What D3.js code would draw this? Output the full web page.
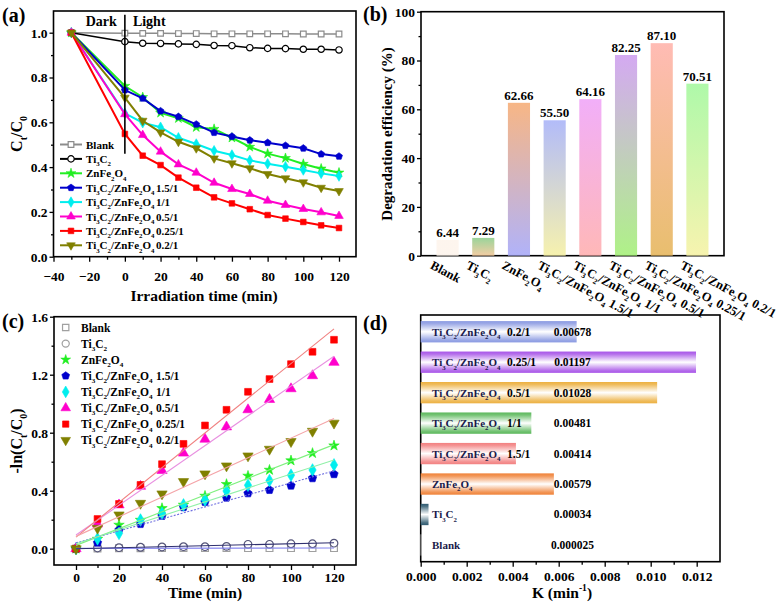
<!DOCTYPE html>
<html><head><meta charset="utf-8">
<script src="https://cdn.jsdelivr.net/npm/d3@7/dist/d3.min.js"></script>
<style>
body{margin:0;background:#fff}
svg{display:block}
text{font-family:"Liberation Serif","Times New Roman",serif;font-weight:bold;fill:#000}
</style>
</head><body>
<svg id="c" width="780" height="605"></svg>
<script>
// ---------------- DATA ----------------
const seriesNames = ["Blank","Ti3C2","ZnFe2O4","Ti3C2/ZnFe2O4 1.5/1","Ti3C2/ZnFe2O4 1/1","Ti3C2/ZnFe2O4 0.5/1","Ti3C2/ZnFe2O4 0.25/1","Ti3C2/ZnFe2O4 0.2/1"];

// (a) Ct/C0 vs irradiation time
const timeA = [-30,0,10,20,30,40,50,60,70,80,90,100,110,120];
const ctBlank   = [1.000,0.998,0.997,0.997,0.996,0.996,0.995,0.995,0.995,0.995,0.995,0.994,0.994,0.994];
const ctTi3C2   = [1.000,0.960,0.953,0.952,0.950,0.948,0.943,0.942,0.933,0.930,0.929,0.926,0.926,0.923];
const ctZnFe2O4 = [1.000,0.762,0.712,0.642,0.618,0.578,0.570,0.531,0.490,0.460,0.440,0.414,0.393,0.375];
const ct15      = [1.000,0.744,0.707,0.650,0.625,0.591,0.554,0.537,0.520,0.509,0.496,0.484,0.458,0.448];
const ct1       = [1.000,0.640,0.598,0.578,0.531,0.503,0.473,0.454,0.430,0.415,0.402,0.387,0.372,0.360];
const ct05      = [1.000,0.636,0.543,0.469,0.412,0.375,0.330,0.302,0.280,0.250,0.231,0.213,0.198,0.182];
const ct025     = [1.000,0.548,0.451,0.409,0.353,0.308,0.265,0.238,0.212,0.186,0.170,0.155,0.140,0.128];
const ct02      = [1.000,0.710,0.607,0.555,0.513,0.484,0.439,0.417,0.395,0.369,0.350,0.332,0.308,0.293];
const ctSeries = [ctBlank,ctTi3C2,ctZnFe2O4,ct15,ct1,ct05,ct025,ct02];

// (b) degradation efficiency (%)
const efficiency = [6.44,7.29,62.66,55.50,64.16,82.25,87.10,70.51];
const efficiencyLabels = ["6.44","7.29","62.66","55.50","64.16","82.25","87.10","70.51"];

// (c) -ln(Ct/C0) vs time
const timeC = [0,10,20,30,40,50,60,70,80,90,100,110,120];
const lnBlank   = [0,0.002,0.003,0.003,0.004,0.004,0.004,0.004,0.004,0.004,0.004,0.004,0.004];
const lnTi3C2   = [0,0.005,0.007,0.010,0.012,0.014,0.014,0.016,0.030,0.030,0.034,0.034,0.038];
const lnZnFe2O4 = [0,0.067,0.164,0.198,0.279,0.302,0.364,0.445,0.502,0.543,0.608,0.659,0.711];
const ln15      = [0,0.041,0.129,0.170,0.226,0.286,0.322,0.352,0.382,0.405,0.435,0.486,0.514];
const ln1       = [0,0.068,0.106,0.198,0.244,0.302,0.336,0.398,0.438,0.470,0.507,0.543,0.578];
const ln05      = [0,0.170,0.302,0.430,0.539,0.659,0.755,0.840,0.958,1.029,1.103,1.193,1.285];
const ln025     = [0,0.205,0.309,0.440,0.583,0.723,0.850,0.958,1.082,1.170,1.273,1.358,1.441];
const ln02      = [0,0.141,0.233,0.313,0.378,0.463,0.516,0.571,0.640,0.686,0.739,0.810,0.866];
const lnSeries = [lnBlank,lnTi3C2,lnZnFe2O4,ln15,ln1,ln05,ln025,ln02];
// linear fit: slope = K, intercepts
const fitIntercepts = [0.002,0.000,0.023,0.040,0.034,0.094,0.080,0.085];

// (d) rate constants K (min^-1)
const kValues = [0.000025,0.00034,0.00579,0.00414,0.00481,0.01028,0.01197,0.00678];
const kLabels = ["0.000025","0.00034","0.00579","0.00414","0.00481","0.01028","0.01197","0.00678"];

// tick values
const ticksAx = [-40,-20,0,20,40,60,80,100,120];
const ticksAy = [0,0.2,0.4,0.6,0.8,1.0];
const ticksBy = [0,20,40,60,80,100];
const ticksCx = [0,20,40,60,80,100,120];
const ticksCy = [0,0.4,0.8,1.2,1.6];
const ticksDx = [0,0.002,0.004,0.006,0.008,0.010,0.012];

// ---------------- STYLES ----------------
const lineColors = ["#8c8c8c","#000000","#22ee22","#0000cc","#00eeee","#ff00cc","#ff0000","#808000"];
const fitColors  = ["#8888f0","#303070","#80f080","#7070e0","#90f0a8","#e890e0","#f08080","#f4a4a8"];
const barTop     = ["#fdf4ec","#8fcf8f","#f6ae78","#aab4f8","#f0a6f8","#cfa0f0","#ffb4ac","#a6f8a0"];
const barBot     = ["#fdf4ec","#f2c89a","#a8aaf8","#f5f0a5","#ffb0b0","#a6f07a","#e6b75e","#f6f2a6"];
const kColors    = ["#ffffff","#2f5a70","#f08238","#f28080","#5cb85c","#ecb040","#a855e8","#8a9ae2"];

const svg = d3.select("#c");
const defs = svg.append("defs");
const FS = 13.5;

// rich text: digits following a letter become subscripts
function chemSegs(str){
  const segs=[]; let prev="";
  for(const ch of str){
    const sub = /\d/.test(ch) && /[A-Za-z]/.test(prev);
    const s = sub?1:0;
    if(segs.length && segs[segs.length-1].s===s) segs[segs.length-1].t+=ch;
    else segs.push({t:ch,s:s});
    prev=ch;
  }
  return segs;
}
function addRich(text, segs, fs){
  let cur=0;
  segs.forEach(seg=>{
    const target = seg.s===1 ? fs*0.3 : seg.s===-1 ? -fs*0.42 : 0;
    text.append("tspan").attr("dy",(target-cur).toFixed(2)).attr("font-size", seg.s? fs*0.62 : fs).text(seg.t);
    cur=target;
  });
  return text;
}
function frame(x0,x1,y0,y1){
  svg.append("rect").attr("x",x0).attr("y",y0).attr("width",x1-x0).attr("height",y1-y0)
    .attr("fill","none").attr("stroke","#000").attr("stroke-width",1.6);
}
function drawAxis(gen, tx, ty){
  const g = svg.append("g").attr("transform",`translate(${tx},${ty})`).call(gen);
  g.select(".domain").remove();
  g.selectAll("line").attr("stroke","#000").attr("stroke-width",1.3);
  g.selectAll("text").attr("font-size",FS).attr("fill","#000");
  return g;
}
function mids(arr){ const m=[]; for(let i=0;i<arr.length-1;i++) m.push((arr[i]+arr[i+1])/2); return m; }

// custom symbols
const pentagon = {draw(ctx,size){ const r=Math.sqrt(size/2.38); for(let i=0;i<5;i++){const a=-Math.PI/2+i*2*Math.PI/5; const x=r*Math.cos(a), y=r*Math.sin(a); i?ctx.lineTo(x,y):ctx.moveTo(x,y);} ctx.closePath(); }};
const symTypes = [d3.symbolSquare,d3.symbolCircle,d3.symbolStar,pentagon,d3.symbolDiamond,d3.symbolTriangle,d3.symbolSquare,d3.symbolTriangle];
const symRot   = [0,0,0,0,0,0,0,180];
const openSym  = [true,true,false,false,false,false,false,false];

function marker(g, i, x, y, size, strokeCol){
  g.append("path").attr("d", d3.symbol().type(symTypes[i]).size(size)())
    .attr("transform",`translate(${x},${y}) rotate(${symRot[i]})`)
    .attr("fill", openSym[i] ? "#fff" : lineColors[i])
    .attr("stroke", strokeCol || lineColors[i]).attr("stroke-width", openSym[i]?1.2:0.6);
}

// ================= PANEL (a) =================
const xA = d3.scaleLinear().domain([-40,120]).range([53.5,339]);
const yA = d3.scaleLinear().domain([0,1]).range([256.7,32.7]);
frame(53.5,356,11,256.7);
drawAxis(d3.axisBottom(xA).tickValues(ticksAx).tickSize(5).tickPadding(10).tickFormat(d3.format("d")),0,256.7);
drawAxis(d3.axisBottom(xA).tickValues(mids(ticksAx)).tickSize(3).tickFormat(""),0,256.7);
drawAxis(d3.axisLeft(yA).tickValues(ticksAy).tickSize(4).tickPadding(2).tickFormat(d3.format(".1f")),53.5,0);
drawAxis(d3.axisLeft(yA).tickValues(mids(ticksAy)).tickSize(2.5).tickFormat(""),53.5,0);

const gA = svg.append("g");
ctSeries.forEach((s,i)=>{
  const pts = timeA.map((t,j)=>[t,s[j]]);
  gA.append("path").attr("d",d3.line().x(d=>xA(d[0])).y(d=>yA(d[1]))(pts))
    .attr("fill","none").attr("stroke",lineColors[i]).attr("stroke-width", i<2?1.5:2);
  pts.forEach(p=>marker(gA,i,xA(p[0]),yA(p[1]), i===2?30:32));
});
// dark/light divider
svg.append("line").attr("x1",xA(0)).attr("x2",xA(0)).attr("y1",yA(1.08)).attr("y2",yA(0.46))
  .attr("stroke","#000").attr("stroke-width",1.6);
svg.append("text").attr("x",xA(0)-8).attr("y",26).attr("text-anchor","end").attr("font-size",14).text("Dark");
svg.append("text").attr("x",xA(0)+8).attr("y",26).attr("font-size",14).text("Light");
// legend
seriesNames.forEach((n,i)=>{
  const y = 144.5 + i*14.4;
  svg.append("line").attr("x1",60).attr("x2",82).attr("y1",y).attr("y2",y).attr("stroke",lineColors[i]).attr("stroke-width",2);
  marker(svg,i,71,y,i===2?30:32);
  const parts = n.split(" ");
  addRich(svg.append("text").attr("x",86).attr("y",y+4).attr("font-size",11), chemSegs(parts[0]), 11);
  if(parts[1]) svg.append("text").attr("x",156).attr("y",y+4).attr("font-size",11).text(parts[1]);
});
// titles
svg.append("text").attr("x",204).attr("y",301).attr("text-anchor","middle").attr("font-size",15.5).text("Irradiation time (min)");
addRich(svg.append("text").attr("transform","translate(22,134) rotate(-90)").attr("text-anchor","middle").attr("font-size",16),
  [{t:"C",s:0},{t:"t",s:1},{t:"/C",s:0},{t:"0",s:1}],16);
svg.append("text").attr("x",2).attr("y",22).attr("font-size",20).text("(a)");

// ================= PANEL (b) =================
const xB = d3.scaleBand().domain(seriesNames).range([421,724]).paddingInner(0.38).paddingOuter(0.435);
const yB = d3.scaleLinear().domain([0,100]).range([255.7,11.7]);
frame(421,724,11.7,255.7);
drawAxis(d3.axisLeft(yB).tickValues(ticksBy).tickSize(4).tickPadding(2).tickFormat(d3.format("d")),421,0);
drawAxis(d3.axisLeft(yB).tickValues(mids(ticksBy)).tickSize(2.5).tickFormat(""),421,0);
seriesNames.forEach((n,i)=>{
  const gr = defs.append("linearGradient").attr("id","gb"+i).attr("x1",0).attr("y1",0).attr("x2",0).attr("y2",1);
  gr.append("stop").attr("offset",0).attr("stop-color",barTop[i]);
  gr.append("stop").attr("offset",1).attr("stop-color",barBot[i]);
  svg.append("rect").attr("x",xB(n)).attr("width",xB.bandwidth())
    .attr("y",yB(efficiency[i])).attr("height",yB(0)-yB(efficiency[i]))
    .attr("fill",`url(#gb${i})`).attr("opacity",0.9);
  svg.append("text").attr("x",xB(n)+xB.bandwidth()/2).attr("y",yB(efficiency[i])-3)
    .attr("text-anchor","middle").attr("font-size",13).text(efficiencyLabels[i]);
  addRich(svg.append("text").attr("transform",`translate(${xB(n)+xB.bandwidth()/2-18},268) rotate(28)`).attr("font-size",12.5),
    chemSegs(n),12.5);
});
svg.append("text").attr("transform","translate(392,134) rotate(-90)").attr("text-anchor","middle").attr("font-size",15).text("Degradation efficiency (%)");
svg.append("text").attr("x",363).attr("y",21).attr("font-size",20).text("(b)");

// ================= PANEL (c) =================
const xC = d3.scaleLinear().domain([0,120]).range([76,334]);
const yC = d3.scaleLinear().domain([0,1.6]).range([548.7,316.7]);
frame(54,356,316.7,565);
drawAxis(d3.axisBottom(xC).tickValues(ticksCx).tickSize(5).tickPadding(2).tickFormat(d3.format("d")),0,565);
drawAxis(d3.axisBottom(xC).tickValues(mids(ticksCx)).tickSize(3).tickFormat(""),0,565);
drawAxis(d3.axisLeft(yC).tickValues(ticksCy).tickSize(4).tickPadding(2).tickFormat(d3.format(".1f")),54,0);
drawAxis(d3.axisLeft(yC).tickValues(mids(ticksCy)).tickSize(2.5).tickFormat(""),54,0);
const gC = svg.append("g");
const openCol = ["#a0a0a0","#55557a"];
lnSeries.forEach((s,i)=>{
  const sc = i<2 ? openCol[i] : null;
  timeC.forEach((t,j)=>marker(gC,i,xC(t),yC(s[j]), i===2?34:46, sc));
});
lnSeries.forEach((s,i)=>{
  const f = t=>fitIntercepts[i]+kValues[i]*t;
  gC.append("line").attr("x1",xC(0)).attr("x2",xC(120)).attr("y1",yC(f(0))).attr("y2",yC(f(120)))
    .attr("stroke",fitColors[i]).attr("stroke-width",1.1)
    .attr("stroke-dasharray", i===3 ? "2,1.5" : null);
});
seriesNames.forEach((n,i)=>{
  const y = 327.5 + i*16.1;
  marker(svg,i,65.7,y, i===2?30:40, i<2?openCol[0]:null);
  const parts = n.split(" ");
  addRich(svg.append("text").attr("x",81).attr("y",y+4).attr("font-size",11.5), chemSegs(parts[0]), 11.5);
  if(parts[1]) svg.append("text").attr("x",156).attr("y",y+4).attr("font-size",11.5).text(parts[1]);
});
svg.append("text").attr("x",205).attr("y",598).attr("text-anchor","middle").attr("font-size",15.5).text("Time (min)");
addRich(svg.append("text").attr("transform","translate(22,441) rotate(-90)").attr("text-anchor","middle").attr("font-size",16),
  [{t:"-ln(C",s:0},{t:"t",s:1},{t:"/C",s:0},{t:"0",s:1},{t:")",s:0}],16);
svg.append("text").attr("x",2).attr("y",328).attr("font-size",20).text("(c)");

// ================= PANEL (d) =================
const xD = d3.scaleLinear().domain([0,0.012]).range([420.7,696.7]);
const yD = d3.scaleBand().domain(seriesNames.slice().reverse()).range([315,561.7]).paddingInner(0.3).paddingOuter(0.2);
frame(420.7,720,315,561.7);
drawAxis(d3.axisBottom(xD).tickValues(ticksDx).tickSize(5).tickPadding(5).tickFormat(d3.format(".3f")),0,561.7);
drawAxis(d3.axisBottom(xD).tickValues(mids(ticksDx)).tickSize(3).tickFormat(""),0,561.7);
seriesNames.forEach((n,i)=>{
  const gr = defs.append("linearGradient").attr("id","gd"+i).attr("x1",0).attr("y1",0).attr("x2",0).attr("y2",1);
  [[0,1],[0.12,0.85],[0.5,0],[0.88,0.85],[1,1]].forEach(([o,a])=>{
    gr.append("stop").attr("offset",o).attr("stop-color",d3.interpolateRgb("#ffffff",kColors[i])(a));
  });
  const yy = yD(n), bh = yD.bandwidth();
  svg.append("rect").attr("x",xD(0)).attr("y",yy).attr("height",bh)
    .attr("width",xD(kValues[i])-xD(0)).attr("fill",`url(#gd${i})`);
  const parts = n.split(" ");
  addRich(svg.append("text").attr("x",432).attr("y",yy+bh/2+4).attr("font-size",11).style("fill","#1a1a4a"), chemSegs(parts[0]), 11)
    .selectAll("tspan").style("fill","#1a1a4a");
  if(parts[1]) svg.append("text").attr("x",507).attr("y",yy+bh/2+4).attr("font-size",11.5).text(parts[1]);
  svg.append("text").attr("x",xD(0.0066)).attr("y",yy+bh/2+4).attr("text-anchor","middle").attr("font-size",11.5).text(kLabels[i]);
});
addRich(svg.append("text").attr("x",562).attr("y",598).attr("text-anchor","middle").attr("font-size",15.5),
  [{t:"K (min",s:0},{t:"-1",s:-1},{t:")",s:0}],15.5);
svg.append("text").attr("x",363).attr("y",330).attr("font-size",20).text("(d)");
</script>
</body></html>
